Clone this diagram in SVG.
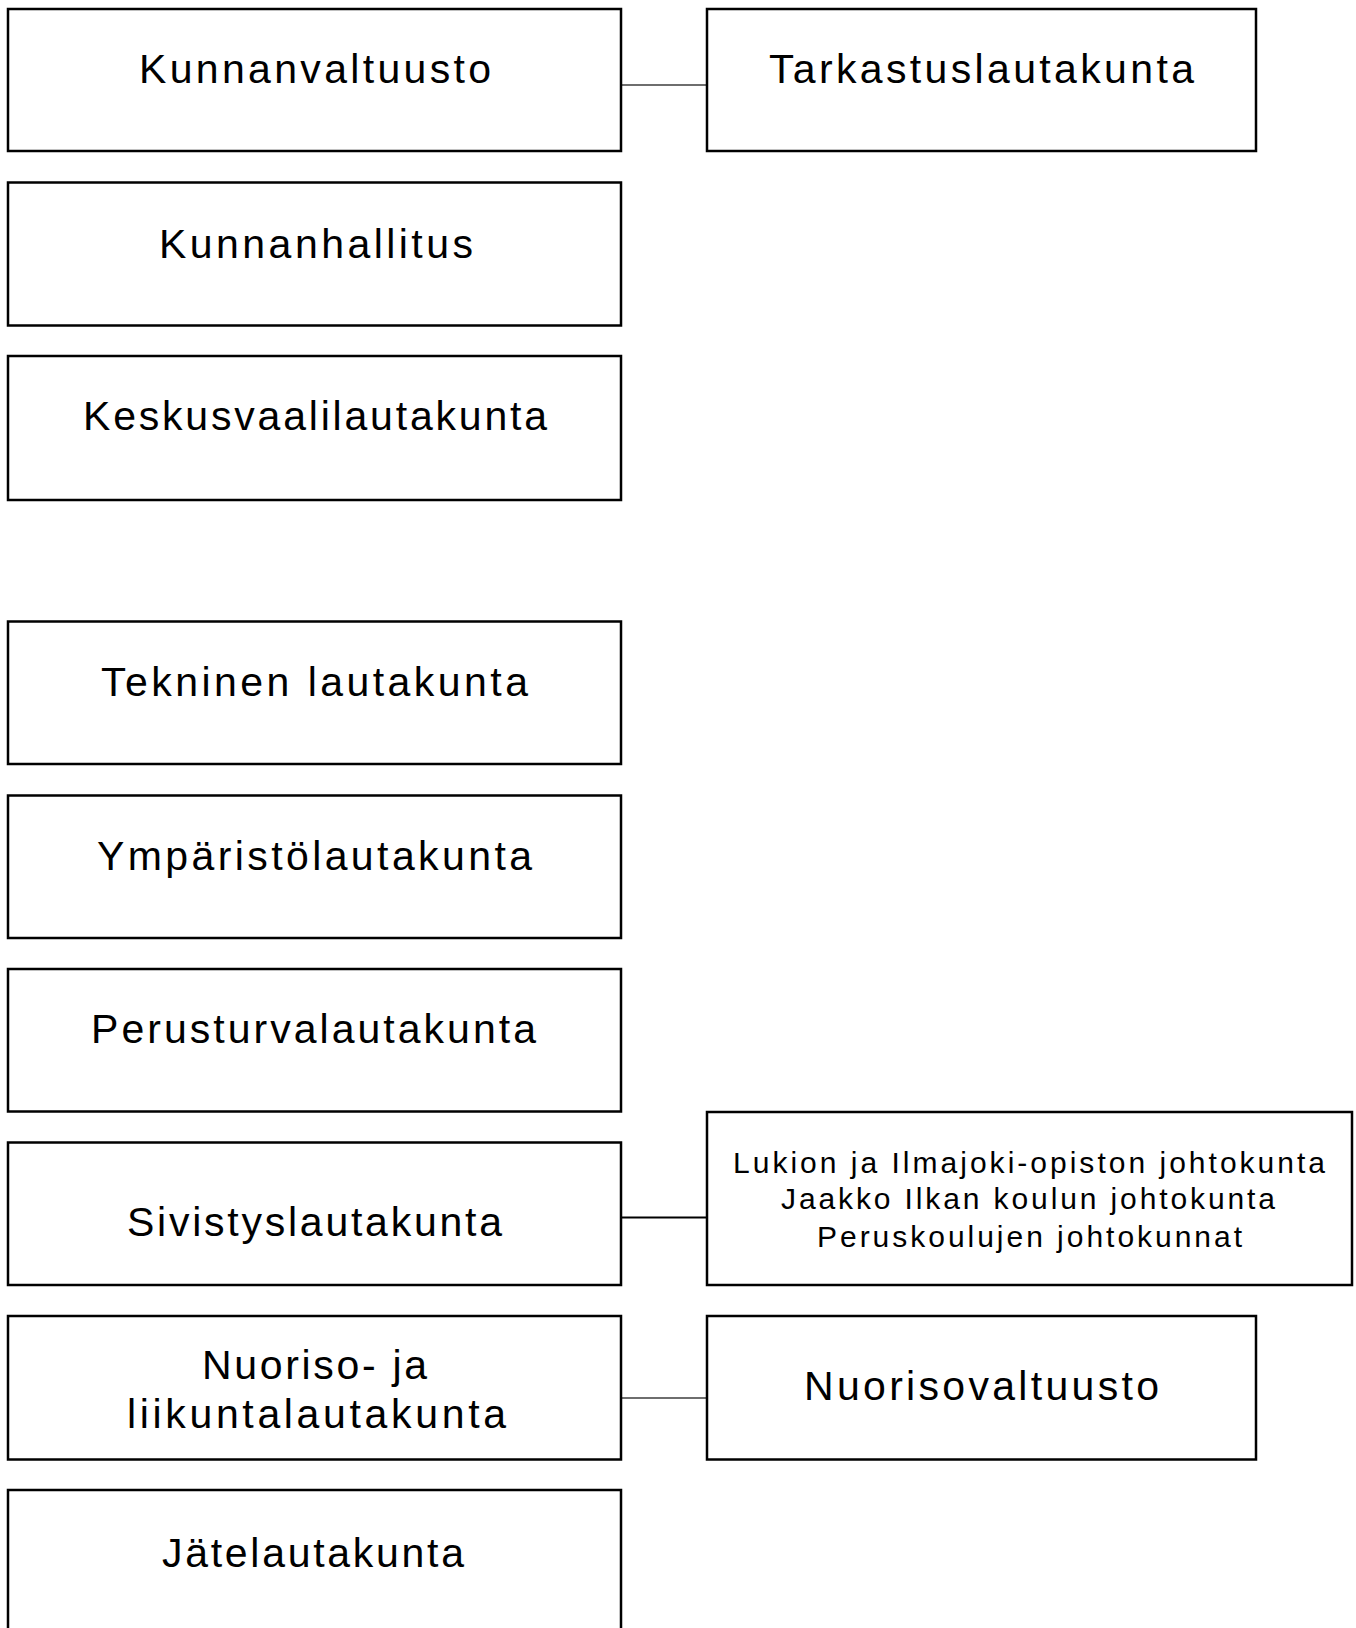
<svg xmlns="http://www.w3.org/2000/svg" width="1356" height="1628" viewBox="0 0 1356 1628">
<style>
.box{fill:#ffffff;stroke:#000000;stroke-width:2.5}
.t{font-family:"Liberation Sans",Arial,sans-serif;font-size:41px;fill:#000000;text-anchor:middle}
.s{font-family:"Liberation Sans",Arial,sans-serif;font-size:30px;fill:#000000;text-anchor:middle}
.cg{stroke:#6e6e6e;stroke-width:2;fill:none}
.cb{stroke:#000000;stroke-width:2;fill:none}
</style>
<rect width="1356" height="1628" fill="#ffffff"/>
<g id="connectors">
<line class="cg" x1="618" y1="85" x2="707" y2="85"/>
<line class="cb" x1="618" y1="1217.5" x2="707" y2="1217.5"/>
<line class="cg" x1="618" y1="1398" x2="707" y2="1398"/>
</g>
<g id="kunnanvaltuusto">
<rect class="box" x="8" y="9" width="613" height="142"/>
<text class="t" x="315" y="83" textLength="352" lengthAdjust="spacing">Kunnanvaltuusto</text>
</g>
<g id="tarkastuslautakunta">
<rect class="box" x="707" y="9" width="549" height="142"/>
<text class="t" x="981.5" y="83" textLength="425" lengthAdjust="spacing">Tarkastuslautakunta</text>
</g>
<g id="kunnanhallitus">
<rect class="box" x="8" y="182.5" width="613" height="143"/>
<text class="t" x="316" y="258" textLength="314" lengthAdjust="spacing">Kunnanhallitus</text>
</g>
<g id="keskusvaalilautakunta">
<rect class="box" x="8" y="356" width="613" height="144"/>
<text class="t" x="315" y="430" textLength="464" lengthAdjust="spacing">Keskusvaalilautakunta</text>
</g>
<g id="tekninen">
<rect class="box" x="8" y="621.5" width="613" height="142.5"/>
<text class="t" x="314.5" y="696" textLength="427" lengthAdjust="spacing">Tekninen lautakunta</text>
</g>
<g id="ymparisto">
<rect class="box" x="8" y="795.5" width="613" height="142.5"/>
<text class="t" x="314.5" y="870" textLength="435" lengthAdjust="spacing">Ympäristölautakunta</text>
</g>
<g id="perusturva">
<rect class="box" x="8" y="969" width="613" height="142.5"/>
<text class="t" x="313.5" y="1043" textLength="445" lengthAdjust="spacing">Perusturvalautakunta</text>
</g>
<g id="sivistys">
<rect class="box" x="8" y="1142.5" width="613" height="142.5"/>
<text class="t" x="314.5" y="1236" textLength="375" lengthAdjust="spacing">Sivistyslautakunta</text>
</g>
<g id="johtokunnat">
<rect class="box" x="707" y="1112" width="645" height="173"/>
<text class="s" x="1029" y="1173" textLength="592" lengthAdjust="spacing">Lukion ja Ilmajoki-opiston johtokunta</text>
<text class="s" x="1028" y="1209" textLength="494" lengthAdjust="spacing">Jaakko Ilkan koulun johtokunta</text>
<text class="s" x="1029.5" y="1247" textLength="425" lengthAdjust="spacing">Peruskoulujen johtokunnat</text>
</g>
<g id="nuoriso-liikunta">
<rect class="box" x="8" y="1316" width="613" height="143.5"/>
<text class="t" x="314.5" y="1379" textLength="225" lengthAdjust="spacing">Nuoriso- ja</text>
<text class="t" x="316.5" y="1428" textLength="379" lengthAdjust="spacing">liikuntalautakunta</text>
</g>
<g id="nuorisovaltuusto">
<rect class="box" x="707" y="1316" width="549" height="143.5"/>
<text class="t" x="981.5" y="1400" textLength="355" lengthAdjust="spacing">Nuorisovaltuusto</text>
</g>
<g id="jatelautakunta">
<rect class="box" x="8" y="1490" width="613" height="160"/>
<text class="t" x="313" y="1567" textLength="302" lengthAdjust="spacing">Jätelautakunta</text>
</g>
</svg>
